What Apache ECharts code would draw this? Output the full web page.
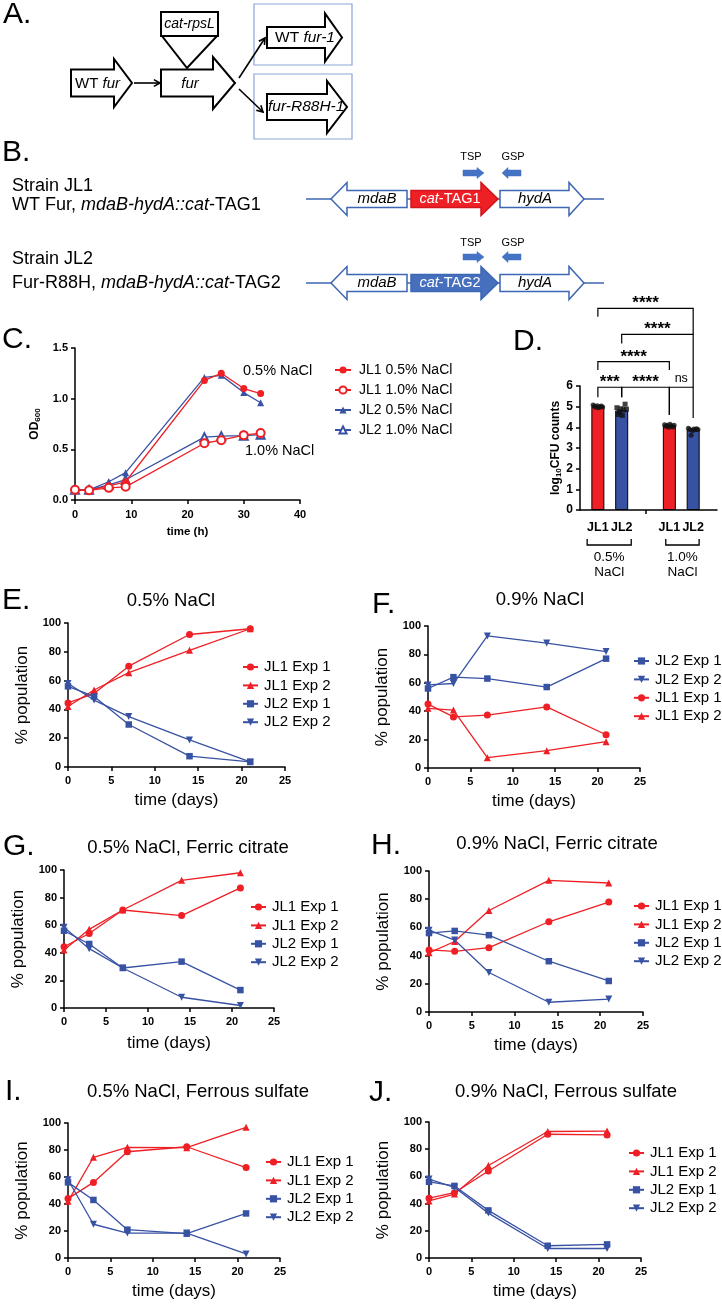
<!DOCTYPE html>
<html><head><meta charset="utf-8">
<script src="https://cdn.jsdelivr.net/npm/echarts@6/dist/echarts.min.js"></script>
<style>html,body{margin:0;padding:0;background:#fff}#c{width:722px;height:1312px}</style>
</head><body><div id="c"></div>
<script>
const FONT = '"Liberation Sans", Arial, Helvetica, sans-serif';
const RED = '#ee1f25', BLUE = '#3852a3';

// ---------- Panel C: growth curves ----------
const growthTime = [0, 2.5, 6, 9, 23, 26, 30, 33];
const jl1_05 = [0.10, 0.095, 0.14, 0.18, 1.18, 1.25, 1.10, 1.05];
const jl1_10 = [0.10, 0.095, 0.12, 0.13, 0.56, 0.59, 0.64, 0.66];
const jl2_05 = [0.10, 0.10, 0.18, 0.27, 1.21, 1.23, 1.06, 0.96];
const jl2_10 = [0.10, 0.10, 0.15, 0.20, 0.62, 0.63, 0.635, 0.645];
const growthNames = ['JL1 0.5% NaCl', 'JL1 1.0% NaCl', 'JL2 0.5% NaCl', 'JL2 1.0% NaCl'];

// ---------- Panel D: CFU counts ----------
const cfuLabels = ['JL1', 'JL2', 'JL1', 'JL2'];
const cfuPos = [1, 2, 4, 5];
const cfuMean = [5.02, 4.82, 4.10, 3.90];
const cfuRep1 = [5.08, 5.02, 4.97, 5.05, 4.95, 5.0, 5.03, 4.98];
const cfuRep2 = [4.95, 4.62, 4.75, 4.9, 4.58, 4.85, 5.12, 4.88];
const cfuRep3 = [4.12, 4.05, 4.1, 4.0, 4.15, 4.08, 4.02, 4.1];
const cfuRep4 = [3.95, 3.9, 3.62, 3.85, 3.92, 3.88, 3.93, 3.9];
const sigText = ['***', '****', 'ns', '****', '****', '****'];

// ---------- Panels E-J: competition ----------
const days = [0, 3, 7, 14, 21];
const E_JL1_1 = [44.5, 51, 70, 92, 96];
const E_JL1_2 = [42, 53.5, 65.5, 81, 96];
const E_JL2_1 = [56, 49, 29.5, 7.5, 3.5];
const E_JL2_2 = [58, 46.5, 35, 18.8, 3.5];
const F_JL2_1 = [56, 64, 63, 57, 77];
const F_JL2_2 = [58.5, 59.5, 93, 88, 82];
const F_JL1_1 = [45, 36, 37.3, 43, 23.4];
const F_JL1_2 = [42, 40.8, 7.3, 12.2, 18.5];
const G_JL1_1 = [44.4, 54, 71, 67, 87];
const G_JL1_2 = [42, 57, 71, 92.5, 98];
const G_JL2_1 = [56, 46.4, 29, 33.6, 13];
const G_JL2_2 = [58.5, 43, 29, 7.8, 1.8];
const H_JL1_1 = [44, 43, 45.6, 64, 78];
const H_JL1_2 = [42, 50, 72, 93.4, 91.5];
const H_JL2_1 = [56, 57.5, 54.5, 36, 22];
const H_JL2_2 = [58, 51, 28, 6.9, 9.2];
const I_JL1_1 = [44, 56, 78.7, 82.4, 67];
const I_JL1_2 = [42, 74.6, 82, 81.7, 96.8];
const I_JL2_1 = [56, 43, 21, 18, 33];
const I_JL2_2 = [58, 25, 18.5, 18.5, 3];
const J_JL1_1 = [44, 48, 64, 91, 90.5];
const J_JL1_2 = [42, 47, 68, 93, 93.3];
const J_JL2_1 = [56, 53, 35, 9, 10];
const J_JL2_2 = [58, 52, 33, 7, 7];

const panelTitles = ['0.5% NaCl', '0.9% NaCl', '0.5% NaCl, Ferric citrate', '0.9% NaCl, Ferric citrate', '0.5% NaCl, Ferrous sulfate', '0.9% NaCl, Ferrous sulfate'];

// ---------- layout ----------
const panels = [
  {grid:{left:68, top:623, width:217, height:144}, order:['JL1 Exp 1','JL1 Exp 2','JL2 Exp 1','JL2 Exp 2'], data:{'JL1 Exp 1':E_JL1_1,'JL1 Exp 2':E_JL1_2,'JL2 Exp 1':E_JL2_1,'JL2 Exp 2':E_JL2_2}, legend:[242,659.5], title:[171,601], xGap:25},
  {grid:{left:428, top:626, width:212, height:142}, order:['JL2 Exp 1','JL2 Exp 2','JL1 Exp 1','JL1 Exp 2'], data:{'JL1 Exp 1':F_JL1_1,'JL1 Exp 2':F_JL1_2,'JL2 Exp 1':F_JL2_1,'JL2 Exp 2':F_JL2_2}, legend:[633,653.5], title:[540,600], xGap:25},
  {grid:{left:64, top:870, width:210, height:138}, order:['JL1 Exp 1','JL1 Exp 2','JL2 Exp 1','JL2 Exp 2'], data:{'JL1 Exp 1':G_JL1_1,'JL1 Exp 2':G_JL1_2,'JL2 Exp 1':G_JL2_1,'JL2 Exp 2':G_JL2_2}, legend:[250,899.5], title:[188,848], xGap:27},
  {grid:{left:429, top:871, width:214, height:141}, order:['JL1 Exp 1','JL1 Exp 2','JL2 Exp 1','JL2 Exp 2'], data:{'JL1 Exp 1':H_JL1_1,'JL1 Exp 2':H_JL1_2,'JL2 Exp 1':H_JL2_1,'JL2 Exp 2':H_JL2_2}, legend:[633,898.5], title:[557,844], xGap:25},
  {grid:{left:68, top:1123, width:212, height:135}, order:['JL1 Exp 1','JL1 Exp 2','JL2 Exp 1','JL2 Exp 2'], data:{'JL1 Exp 1':I_JL1_1,'JL1 Exp 2':I_JL1_2,'JL2 Exp 1':I_JL2_1,'JL2 Exp 2':I_JL2_2}, legend:[265,1154.5], title:[198,1092], xGap:25},
  {grid:{left:429, top:1122, width:212, height:136}, order:['JL1 Exp 1','JL1 Exp 2','JL2 Exp 1','JL2 Exp 2'], data:{'JL1 Exp 1':J_JL1_1,'JL1 Exp 2':J_JL1_2,'JL2 Exp 1':J_JL2_1,'JL2 Exp 2':J_JL2_2}, legend:[628,1145.5], title:[566,1092], xGap:25}
];
const sty = {
  'JL1 Exp 1': {color:RED, symbol:'circle', size:7, rot:0},
  'JL1 Exp 2': {color:RED, symbol:'triangle', size:7, rot:0},
  'JL2 Exp 1': {color:BLUE, symbol:'rect', size:6.5, rot:0},
  'JL2 Exp 2': {color:BLUE, symbol:'triangle', size:7, rot:180}
};

function axisBase(o){
  const a = {
    type:'value', gridIndex:o.g, min:o.min, max:o.max, interval:o.interval,
    axisLine:{show:true, onZero:false, lineStyle:{color:'#000', width:1.5}},
    axisTick:{show:true, inside:false, length:4, lineStyle:{color:'#000', width:1.5}},
    splitLine:{show:false},
    axisLabel:Object.assign({color:'#000', fontWeight:'bold', fontSize:11, fontFamily:FONT, margin:7}, o.label||{}),
  };
  if (o.name) {
    a.name = o.name; a.nameLocation = 'middle'; a.nameGap = o.nameGap;
    a.nameTextStyle = Object.assign({color:'#000', fontFamily:FONT, fontSize:17}, o.nameStyle||{});
  }
  if (o.tick) a.axisTick = Object.assign(a.axisTick, o.tick);
  return a;
}
const zip = (xs, ys) => xs.map((x, i) => [x, ys[i]]);

const grids = [], xAxes = [], yAxes = [], series = [], legends = [];

// C (grid 0)
grids.push({left:75, top:348, width:225, height:152});
xAxes.push(axisBase({g:0, min:0, max:40, interval:10, name:'time (h)', nameGap:26, nameStyle:{fontSize:11.5, fontWeight:'bold'}, label:{margin:9}}));
yAxes.push(axisBase({g:0, min:0, max:1.5, interval:0.5, name:'OD{s|600}', nameGap:33,
  nameStyle:{fontSize:12, fontWeight:'bold', rich:{s:{fontSize:8, fontWeight:'bold', verticalAlign:'bottom', padding:[6,0,0,0]}}},
  label:{formatter:v => v.toFixed(1)}}));
const growthSets = [jl1_05, jl1_10, jl2_05, jl2_10];
const growthSty = [
  {color:RED, symbol:'circle', size:7},
  {color:RED, symbol:'emptyCircle', size:8},
  {color:BLUE, symbol:'triangle', size:7},
  {color:BLUE, symbol:'emptyTriangle', size:8}
];
growthSets.forEach((arr, i) => {
  series.push({type:'line', name:growthNames[i], xAxisIndex:0, yAxisIndex:0, data:zip(growthTime, arr),
    symbol:growthSty[i].symbol, symbolSize:growthSty[i].size, showSymbol:true,
    lineStyle:{color:growthSty[i].color, width:1.3}, itemStyle:{color:growthSty[i].color, borderWidth:1.5},
    silent:true, z: i < 2 ? 3 : 2});
});
legends.push({orient:'vertical', left:334, top:363, padding:0, itemWidth:16, itemHeight:9, itemGap:6, selectedMode:false,
  data:growthNames, textStyle:{fontSize:14, lineHeight:14, color:'#000', fontFamily:FONT, padding:[0,0,0,3]}});

// D (grid 1)
grids.push({left:580, top:386, width:137, height:124});
xAxes.push(axisBase({g:1, min:0.25, max:6, interval:0.25,
  label:{customValues:cfuPos, formatter:v => { const k = cfuPos.indexOf(Math.round(v)); return (k >= 0 && Math.abs(v - Math.round(v)) < 1e-6) ? cfuLabels[k] : ''; }, fontSize:12.5, margin:11},
  tick:{customValues:[3]}}));
yAxes.push(axisBase({g:1, min:0, max:6, interval:1, name:'log{s|10}CFU counts', nameGap:16,
  nameStyle:{fontSize:12, fontWeight:'bold', rich:{s:{fontSize:8, fontWeight:'bold', padding:[6,0,0,0]}}},
  label:{fontSize:12}}));
series.push({type:'bar', xAxisIndex:1, yAxisIndex:1, barWidth:13, silent:true,
  data:cfuPos.map((p, i) => ({value:[p, cfuMean[i]], itemStyle:{color: i % 2 === 0 ? RED : BLUE, borderColor:'#000', borderWidth:1}}))});
const cfuReps = [cfuRep1, cfuRep2, cfuRep3, cfuRep4];
const repSym = ['circle', 'rect', 'circle', 'circle'];
cfuReps.forEach((reps, i) => {
  series.push({type:'scatter', xAxisIndex:1, yAxisIndex:1, silent:true, symbol:repSym[i], symbolSize:5, itemStyle:{color:'#111'}, z:5,
    data:reps.map((v, j) => [cfuPos[i] + (j / (reps.length - 1) - 0.5) * 0.4, v])});
});

// E-J (grids 2..7)
panels.forEach((p, k) => {
  const g = k + 2;
  grids.push(p.grid);
  xAxes.push(axisBase({g, min:0, max:25, interval:5, name:'time (days)', nameGap:p.xGap, label:{margin:8}}));
  yAxes.push(axisBase({g, min:0, max:100, interval:20, name:'% population', nameGap:37}));
  p.order.forEach(nm => {
    const s = sty[nm];
    series.push({type:'line', name:nm, xAxisIndex:g, yAxisIndex:g, data:zip(days, p.data[nm]),
      symbol:s.symbol, symbolSize:s.size, symbolRotate:s.rot, showSymbol:true,
      lineStyle:{color:s.color, width:1.3}, itemStyle:{color:s.color}, silent:true});
  });
  legends.push({orient:'vertical', left:p.legend[0], top:p.legend[1], padding:0, itemWidth:15, itemHeight:9, itemGap:3.4,
    selectedMode:false, data:p.order, textStyle:{fontSize:15, lineHeight:15, color:'#000', fontFamily:FONT, padding:[0,0,0,1]}});
});

const chart = echarts.init(document.getElementById('c'), null, {renderer:'canvas', width:722, height:1312});
chart.setOption({animation:false, backgroundColor:'#fff', textStyle:{fontFamily:FONT},
  grid:grids, xAxis:xAxes, yAxis:yAxes, series, legend:legends});

// ---------- graphics: diagrams, letters, annotations ----------
const G = [];
const K = '#000', GB = '#3d66b3', GB2 = '#4472c4';
function poly(points, fill, stroke, lw){ G.push({type:'polygon', shape:{points}, style:{fill, stroke, lineWidth:lw, lineJoin:'miter'}, z:10, silent:true}); }
function ln(x1, y1, x2, y2, stroke, lw){ G.push({type:'line', shape:{x1, y1, x2, y2}, style:{stroke, lineWidth:lw}, z:9, silent:true}); }
function pl(points, stroke, lw){ G.push({type:'polyline', shape:{points}, style:{stroke, lineWidth:lw, fill:null}, z:10, silent:true}); }
function rc(x, y, w, h, fill, stroke, lw){ G.push({type:'rect', shape:{x, y, width:w, height:h}, style:{fill, stroke, lineWidth:lw}, z:9, silent:true}); }
function tx(x, y, text, o){
  o = o || {};
  const size = o.size || 15, col = o.color || '#000';
  const rich = {n:{fontSize:size, fontFamily:FONT, fill:col, fontWeight:o.weight||'normal'}, i:{fontSize:size, fontFamily:FONT, fill:col, fontStyle:'italic'}};
  G.push({type:'text', x, y, z:12, silent:true, style:{text, rich, fontSize:size, fontFamily:FONT, fill:col,
    fontStyle:o.italic ? 'italic' : 'normal', fontWeight:o.weight || 'normal',
    align:o.align || 'left', verticalAlign:'middle', textAlign:o.align || 'left', textVerticalAlign:'middle'}});
}
function arrowPts(x0, xh, xt, yc, bh, hh){
  return [[x0, yc - bh/2], [xh, yc - bh/2], [xh, yc - hh/2], [xt, yc], [xh, yc + hh/2], [xh, yc + bh/2], [x0, yc + bh/2]];
}
function vArrow(x1, y1, x2, y2, lw){
  ln(x1, y1, x2, y2, K, lw);
  const a = Math.atan2(y2 - y1, x2 - x1), L = 7, s = 0.5;
  pl([[x2 - L*Math.cos(a - s), y2 - L*Math.sin(a - s)], [x2, y2], [x2 - L*Math.cos(a + s), y2 - L*Math.sin(a + s)]], K, lw);
}

// Panel letters
[['A.',3,15],['B.',2,153],['C.',2,340],['D.',513,342],['E.',2,601],['F.',372,605],['G.',3,847],['H.',371,846],['I.',5,1092],['J.',369,1093]]
  .forEach(d => tx(d[1], d[2], d[0], {size:30}));

// Panel A
rc(254, 4, 98, 61, 'none', '#8ba5d8', 1.2);
rc(254, 74, 98, 65, 'none', '#8ba5d8', 1.2);
poly(arrowPts(71, 114, 132, 83, 27, 48), '#fff', K, 2);
tx(75, 84, '{n|WT }{i|fur}', {size:15});
vArrow(134, 83, 160, 83, 1.6);
poly(arrowPts(161, 213, 235, 83, 27, 52), '#fff', K, 2);
tx(190, 84, 'fur', {size:15, italic:true, align:'center'});
poly([[162, 36], [217, 36], [187, 68]], '#fff', K, 2);
rc(161, 12, 57, 24, '#fff', K, 2);
tx(189.5, 24, 'cat-rpsL', {size:14, italic:true, align:'center'});
vArrow(239, 78, 265, 38, 1.6);
vArrow(239, 89, 263, 112, 1.6);
poly(arrowPts(267, 325, 342, 37.5, 21, 48), '#fff', K, 2);
tx(275, 38, '{n|WT }{i|fur-1}', {size:15.5});
poly(arrowPts(267, 327, 347, 107, 26, 52), '#fff', K, 2);
tx(268, 107, '{i|fur-R88H-1}', {size:15.5});

// Panel B
tx(12, 186, 'Strain JL1', {size:18});
tx(12, 205, '{n|WT Fur, }{i|mdaB-hydA::cat}{n|-TAG1}', {size:18});
tx(12, 259, 'Strain JL2', {size:18});
tx(12, 283, '{n|Fur-R88H, }{i|mdaB-hydA::cat}{n|-TAG2}', {size:18});
function geneRow(yc, tagFill, tagStroke, tagLabel, tspY, lblY){
  ln(306, yc, 604, yc, GB, 1.5);
  poly(arrowPts(407, 347, 331, yc, 17, 33), '#fff', GB, 1.5);
  poly(arrowPts(411, 481, 498, yc, 17, 33), tagFill, tagStroke, 1.5);
  poly(arrowPts(500, 569, 584, yc, 17, 33), '#fff', GB, 1.5);
  tx(377, yc, 'mdaB', {size:15, italic:true, align:'center'});
  tx(450, yc, '{i|cat}{n|' + tagLabel + '}', {size:14.5, color:'#fff', align:'center'});
  tx(535, yc, 'hydA', {size:15, italic:true, align:'center'});
  poly(arrowPts(463, 477, 484, tspY, 6, 11), GB2, GB2, 0.5);
  poly(arrowPts(521, 508, 502, tspY, 6, 11), GB2, GB2, 0.5);
  tx(471, lblY, 'TSP', {size:11, align:'center'});
  tx(513, lblY, 'GSP', {size:11, align:'center'});
}
geneRow(199, RED, '#d0161c', '-TAG1', 173, 157);
geneRow(283, '#4670bd', GB, '-TAG2', 257, 243);

// Panel C annotations
tx(243, 371, '0.5% NaCl', {size:14.5});
tx(245, 451, '1.0% NaCl', {size:14.5});

// Panel titles E-J
panels.forEach((p, k) => tx(p.title[0], p.title[1], panelTitles[k], {size:18.5, align:'center'}));

// Panel D significance brackets (data units: x1, x2, top, leftLegBottom, rightLegBottom)
const sigBrackets = [[1,2,5.94,5.45,5.45],[2,4,5.94,5.45,4.6],[4,5,5.94,4.6,4.45],[1,4,7.18,6.77,6.77],[2,5,8.5,8.06,5.94],[1,5,9.76,9.35,8.5]];
const P = (x, y) => chart.convertToPixel({gridIndex:1}, [x, y]);
sigBrackets.forEach((b, i) => {
  const l = P(b[0], b[2]), r = P(b[1], b[2]), lb = P(b[0], b[3]), rb = P(b[1], b[4]);
  pl([[lb[0], lb[1]], [l[0], l[1]], [r[0], r[1]], [rb[0], rb[1]]], K, 1.2);
  const isNs = sigText[i] === 'ns';
  tx((l[0] + r[0]) / 2, l[1] - (isNs ? 9 : 4.6), sigText[i], {size:isNs ? 12.5 : 17, weight:isNs ? 'normal' : 'bold', align:'center'});
});
// Panel D group brackets
const groupSpans = [[0.55, 2.4, '0.5%'], [3.85, 5.25, '1.0%']];
groupSpans.forEach(s => {
  const a = P(s[0], 0), b = P(s[1], 0);
  const y = a[1] + 35;
  pl([[a[0], y - 6], [a[0], y], [b[0], y], [b[0], y - 6]], K, 1.3);
  const cx = (a[0] + b[0]) / 2;
  tx(cx, a[1] + 47, s[2], {size:13.5, align:'center'});
  tx(cx, a[1] + 62, 'NaCl', {size:13.5, align:'center'});
});

chart.setOption({graphic:{elements:G}});
</script></body></html>
